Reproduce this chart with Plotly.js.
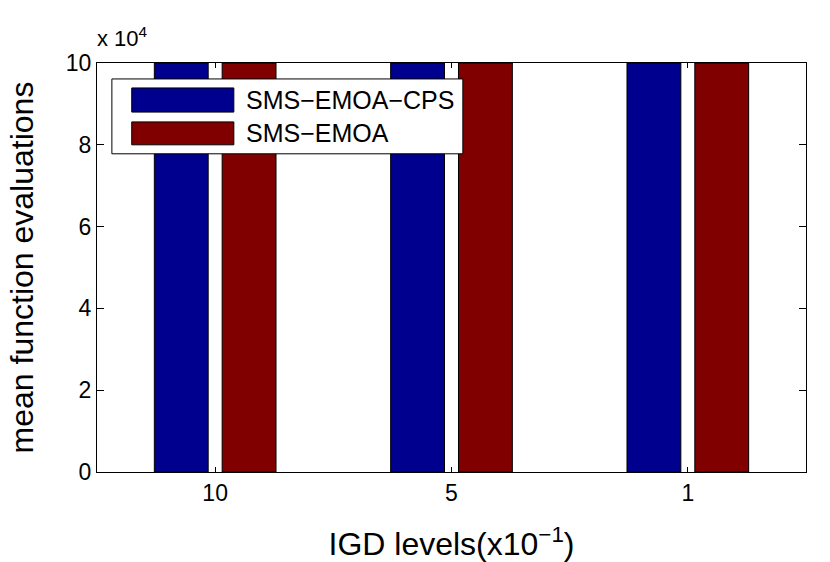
<!DOCTYPE html>
<html>
<head>
<meta charset="utf-8">
<script src="https://cdn.plot.ly/plotly-3.0.1.min.js"></script>
<style>
  html, body { margin: 0; padding: 0; background: #fff; }
  #chart { width: 830px; height: 562px; }
</style>
</head>
<body>
<div id="chart"></div>
<script>
// IGD levels (x10^-1) on the x axis
var igdLevels = ['10', '5', '1'];
// mean function evaluations, every run hit the 1e5 budget
var cpsEvals = [100000, 100000, 100000];
var baseEvals = [100000, 100000, 100000];
var seriesNames = ['SMS\u2212EMOA\u2212CPS', 'SMS\u2212EMOA'];
var seriesColors = ['rgb(0,0,143)', 'rgb(128,0,0)'];
var yTicks = [0, 20000, 40000, 60000, 80000, 100000];
var yTickText = ['0', '2', '4', '6', '8', '10'];

var fontName = 'Liberation Sans, Arial, sans-serif';

var traces = [cpsEvals, baseEvals].map(function (vals, i) {
   return {
      x: igdLevels,
      y: vals,
      type: 'bar',
      name: seriesNames[i],
      marker: {color: seriesColors[i], line: {color: '#000', width: 1}},
      showlegend: false,
      hoverinfo: 'x+y+name'
   };
});

// hand-drawn legend box, MATLAB style with long swatches
var shapes = [{
   type: 'rect', xref: 'paper', yref: 'paper',
   x0: 0.021, x1: 0.516, y0: 0.778, y1: 0.961,
   fillcolor: '#fff', line: {color: '#000', width: 1}
}];
var annotations = [{
   xref: 'paper', yref: 'paper', x: -0.003, y: 1.025,
   xanchor: 'left', yanchor: 'bottom', showarrow: false,
   text: 'x 10<sup>4</sup>', font: {family: fontName, size: 22, color: '#000'}
}];
var swatchRows = [[0.939, 0.880], [0.856, 0.800]];
seriesNames.forEach(function (nm, i) {
   shapes.push({
      type: 'rect', xref: 'paper', yref: 'paper',
      x0: 0.049, x1: 0.193, y0: swatchRows[i][1], y1: swatchRows[i][0],
      fillcolor: seriesColors[i], line: {color: '#000', width: 1}
   });
   annotations.push({
      xref: 'paper', yref: 'paper', x: 0.207, y: (swatchRows[i][0] + swatchRows[i][1]) / 2,
      xanchor: 'left', yanchor: 'middle', showarrow: false,
      text: nm, font: {family: fontName, size: 25, color: '#000'}
   });
});

var layout = {
   width: 830, height: 562,
   margin: {l: 97, r: 24, t: 63, b: 90},
   paper_bgcolor: '#fff', plot_bgcolor: '#fff',
   font: {family: fontName, size: 23, color: '#000'},
   barmode: 'group',
   bargap: 0.426,
   bargroupgap: 0.206,
   xaxis: {
      title: {text: 'IGD levels(x10<sup>\u22121</sup>)', font: {size: 32}, standoff: 28},
      type: 'category',
      range: [-0.5, 2.5],
      showline: true, linecolor: '#000', linewidth: 1, mirror: 'ticks',
      ticks: 'inside', ticklen: 5, tickcolor: '#000',
      showgrid: false, zeroline: false
   },
   yaxis: {
      title: {text: 'mean function evaluations', font: {size: 32}, standoff: 22},
      range: [0, 100000],
      tickvals: yTicks, ticktext: yTickText,
      showline: true, linecolor: '#000', linewidth: 1, mirror: 'ticks',
      ticks: 'inside', ticklen: 7, tickcolor: '#000',
      showgrid: false, zeroline: false
   },
   shapes: shapes,
   annotations: annotations
};

Plotly.newPlot('chart', traces, layout, {displayModeBar: false, responsive: false});
</script>
</body>
</html>
